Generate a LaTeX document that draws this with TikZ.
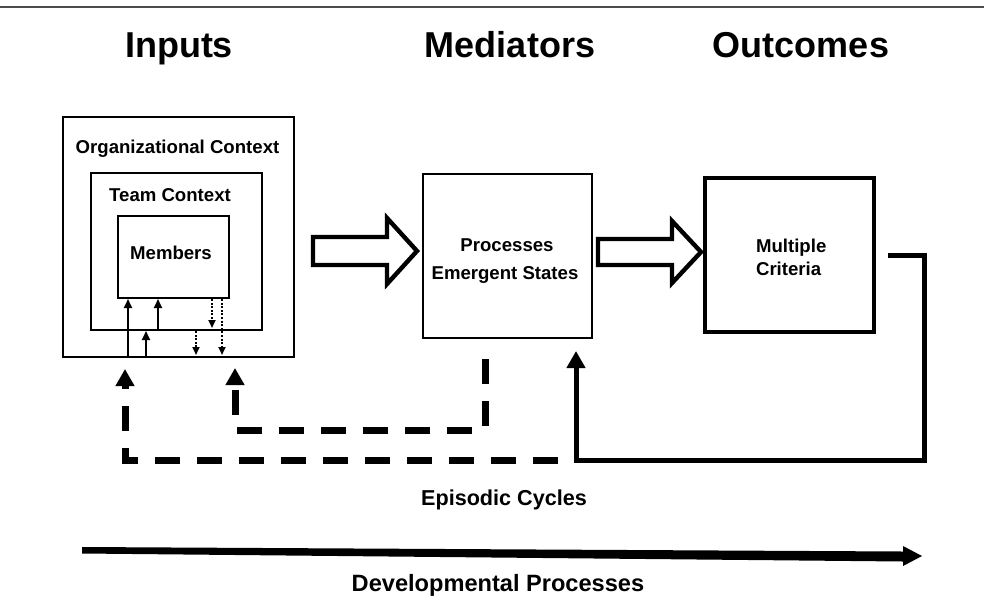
\documentclass[tikz,border=0pt]{standalone}
\usepackage{fontspec}
\setmainfont{Liberation Sans}
\usetikzlibrary{arrows.meta,positioning}

\tikzset{
  box/.style={draw, line width=1pt, inner sep=0pt},
  title/.style={font=\bfseries\fontsize{18}{22}\selectfont, anchor=base},
  lbl/.style={font=\bfseries\fontsize{9.3}{14}\selectfont, anchor=base},
  big/.style={font=\bfseries\fontsize{11.2}{14}\selectfont, anchor=base},
  up/.style={-{Triangle[width=4pt,length=4.5pt]}, line width=1pt},
  down/.style={-{Triangle[width=3.5pt,length=4pt]}, line width=1pt, dash pattern=on 1pt off 0.8pt, shorten >=1.5pt},
  block/.style={draw, line width=2.2pt, line join=miter, fill=white},
  dashfb/.style={-{Triangle[width=9pt,length=8.5pt]}, line width=3.5pt, dash pattern=on 12.5pt off 8.5pt},
  solidfb/.style={-{Triangle[width=9pt,length=8.5pt]}, line width=2.5pt},
}

\begin{document}
\begin{tikzpicture}[x=0.5pt, y=-0.5pt]
  \useasboundingbox (0,0) rectangle (984,611);
  \draw[black!70, line width=1pt] (0,7) -- (984,7);

  % column heads
  \node[title] (inputs) at (179,57) {Inputs};
  \node[title] (mediators) at (510,57) {Mediators};
  \node[title] (outcomes) at (801,57) {Outcomes};

  % boxes
  \node[box, minimum width=115.5pt, minimum height=120pt] (org) at (178.5,237) {};
  \node[box, minimum width=85.5pt, minimum height=78.5pt] (team) at (176.5,251.5) {};
  \node[box, minimum width=55.5pt, minimum height=41pt] (members) at (173.5,257) {};
  \node[box, minimum width=84.5pt, minimum height=82pt] (proc) at (507.5,256) {};
  \node[box, line width=1.6pt, minimum width=84.5pt, minimum height=77pt] (out) at (789.5,255) {};

  \node[lbl] (orglbl) at (177.5,153) {Organizational Context};
  \node[lbl] (teamlbl) at (170,201) {Team Context};
  \node[lbl] (memlbl) at (171,259) {Members};
  \node[lbl] (proclbl) at (507,251) {Processes};
  \node[lbl] (emlbl) at (505,279) {Emergent States};
  \node[lbl, anchor=base west] (multlbl) at (749,252) {Multiple};
  \node[lbl, anchor=base west] (critlbl) at (749,275) {Criteria};

  % small arrows between levels
  \coordinate (u1) at (128,0);
  \coordinate (u2) at (146,0);
  \coordinate (u3) at (158,0);
  \coordinate (d1) at (196,0);
  \coordinate (d2) at (212,0);
  \coordinate (d3) at (222,0);
  \draw[up] (u1 |- org.south) -- (u1 |- members.south);
  \draw[up] (u2 |- org.south) -- (u2 |- team.south);
  \draw[up] (u3 |- team.south) -- (u3 |- members.south);
  \draw[down] (d1 |- team.south) -- (d1 |- org.south);
  \draw[down] (d2 |- members.south) -- (d2 |- team.south);
  \draw[down] (d3 |- members.south) -- (d3 |- org.south);

  % block arrows
  \draw[block] (313,237) -- (387,237) -- (387,218) -- (417,251) -- (387,284) -- (387,265) -- (313,265) -- cycle;
  \draw[block] (598,239) -- (672,239) -- (672,221) -- (701,252) -- (672,283) -- (672,265) -- (598,265) -- cycle;

  % feedback loops
  \coordinate (xa) at (485,0);
  \coordinate (xb) at (235,0);
  \coordinate (xc) at (125,0);
  \coordinate (xr) at (924,0);
  \coordinate (xs) at (576,0);
  \coordinate (ya) at (0,430);
  \coordinate (yb) at (0,460);
  \coordinate (dstart) at (558,460);
  \draw[dashfb, shorten <=10pt, shorten >=5pt] (xa |- proc.south) -- (xa |- ya) -- (xb |- ya) -- (xb |- org.south);
  \draw[dashfb, shorten >=5.5pt] (dstart) -- (xc |- yb) -- (xc |- org.south);
  \draw[solidfb, shorten <=6pt, shorten >=6pt] (out.east) -- (xr |- out.east) -- (xr |- yb) -- (xs |- yb) -- (xs |- proc.south);

  \node[big, font=\bfseries\fontsize{10.8}{14}\selectfont] (episodic) at (504,505) {Episodic Cycles};

  % developmental arrow
  \fill (82,547) -- (903,551.5) -- (903,546) -- (922,556) -- (903,566) -- (903,561.5) -- (82,553.5) -- cycle;
  \node[big, font=\bfseries\fontsize{11.8}{14}\selectfont] (devel) at (498,591) {Developmental Processes};
\end{tikzpicture}
\end{document}
